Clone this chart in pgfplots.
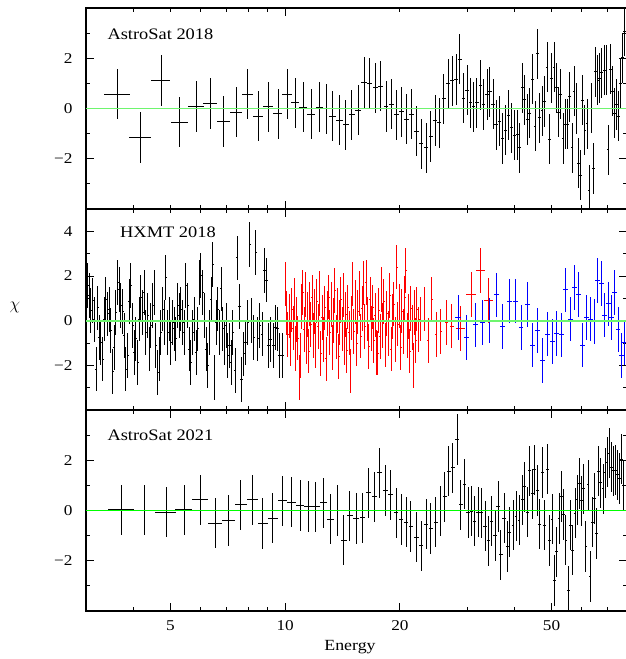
\documentclass[border=0pt]{standalone}
\usepackage{fontspec}
\setmainfont[FakeStretch=1.15]{Liberation Serif}
\usepackage{pgfplots}
\usepackage{pgfplotstable}
\pgfplotsset{compat=1.18}
\definecolor{lgreen}{RGB}{110,245,110}
\definecolor{pgreen}{RGB}{0,255,0}

% AstroSat 2018
\pgfplotstableread{
E chi dE
3.624 0.57 0.28
4.170 -1.15 0.28
4.726 1.11 0.27
5.280 -0.54 0.28
5.841 0.08 0.28
6.366 0.20 0.27
6.896 -0.52 0.26
7.439 -0.14 0.27
7.971 0.57 0.27
8.500 -0.30 0.26
9.028 0.06 0.27
9.575 -0.21 0.26
10.11 0.57 0.28
10.63 0.22 0.26
11.15 0.05 0.27
11.71 -0.22 0.27
12.27 0.05 0.26
12.80 -0.01 0.27
13.32 -0.30 0.27
13.87 -0.46 0.27
14.41 -0.65 0.27
14.97 -0.25 0.27
15.53 -0.07 0.27
16.10 1.03 0.27
16.66 1.00 0.27
17.24 0.83 0.27
17.81 0.89 0.27
18.39 0.08 0.27
18.99 0.17 0.27
19.62 -0.25 0.27
20.22 -0.13 0.30
20.84 -0.42 0.30
21.48 -0.23 0.30
22.14 -0.90 0.30
22.76 -1.41 0.30
23.42 -1.56 0.30
24.09 -1.11 0.30
24.77 -0.48 0.30
25.37 -0.57 0.30
26.10 0.38 0.32
26.79 0.98 0.32
27.40 1.10 0.32
28.07 1.15 0.32
28.71 1.97 0.32
29.34 0.41 0.32
30.00 0.73 0.32
30.60 0.22 0.32
31.23 0.07 0.32
31.86 0.22 0.32
32.50 0.93 0.32
33.18 0.16 0.32
33.85 0.56 0.32
34.47 0.67 0.32
35.10 0.17 0.35
35.75 -0.65 0.35
36.47 -0.50 0.35
37.13 -1.19 0.35
37.81 -0.86 0.35
38.51 -0.26 0.35
39.31 -0.77 0.35
40.03 -1.06 0.35
40.76 -1.04 0.35
41.16 -1.57 0.35
41.84 0.82 0.38
42.42 0.34 0.38
43.12 -0.44 0.38
43.83 -0.19 0.38
44.52 1.16 0.38
45.26 -0.70 0.38
45.89 2.18 0.38
46.56 -0.37 0.38
47.21 -0.09 0.38
47.99 0.28 0.40
48.66 1.65 0.40
49.34 -1.22 0.40
50.06 1.20 0.40
50.77 1.64 0.40
51.47 0.82 0.40
52.23 -0.15 0.42
52.86 0.57 0.42
53.60 -1.19 0.42
54.35 -0.62 0.42
55.15 -0.62 0.42
55.82 0.46 0.44
56.60 -1.56 0.44
57.29 0.69 0.44
58.08 0.00 0.44
58.79 -2.17 0.46
59.50 -2.66 0.46
60.23 0.33 0.46
61.11 -0.86 0.46
61.97 -0.61 0.48
62.72 -3.25 0.48
63.60 0.01 0.48
64.37 -2.39 0.50
65.16 1.46 0.50
66.11 1.12 0.50
66.91 1.20 0.52
67.73 1.42 0.52
68.67 1.53 0.52
69.51 1.53 0.54
70.35 -1.65 0.54
71.34 1.56 0.54
72.21 0.69 0.56
73.08 -0.19 0.56
73.97 0.16 0.56
74.87 -0.30 0.58
75.78 1.00 0.58
76.70 2.01 0.58
77.63 3.07 0.60
}\topdata

% HXMT LE
\pgfplotstableread{
E chi dE
3.030 1.57 0.02
3.061 1.12 0.02
3.092 0.45 0.02
3.123 0.90 0.02
3.155 0.05 0.02
3.187 -2.17 0.02
3.225 0.57 0.02
3.250 -0.75 0.02
3.283 -0.97 0.02
3.317 -1.72 0.02
3.350 0.07 0.02
3.384 0.97 0.02
3.418 0.30 0.02
3.453 0.49 0.02
3.488 -0.45 0.02
3.523 -2.27 0.02
3.559 -1.20 0.02
3.595 0.37 0.02
3.631 1.72 0.02
3.668 1.39 0.02
3.705 0.67 0.02
3.743 0.42 0.02
3.781 -0.67 0.02
3.819 -2.17 0.02
3.858 -1.57 0.02
3.897 0.87 0.02
3.936 1.57 0.02
3.976 -0.22 0.02
4.016 -1.42 0.02
4.057 -0.82 0.02
4.098 -1.87 0.02
4.139 0.07 0.02
4.181 1.05 0.02
4.224 0.37 0.02
4.266 1.27 0.02
4.310 -0.52 0.02
4.353 0.22 0.02
4.397 -1.27 0.02
4.442 -0.22 0.02
4.487 0.67 0.02
4.532 1.27 0.02
4.578 -1.12 0.02
4.625 -2.32 0.02
4.672 -1.72 0.02
4.719 -0.52 0.02
4.767 0.52 0.02
4.815 -0.07 0.02
4.864 1.94 0.02
4.913 -0.52 0.02
4.963 0.07 0.02
5.013 -0.97 0.03
5.064 -0.07 0.03
5.115 -0.37 0.03
5.167 -0.82 0.03
5.219 0.67 0.03
5.272 0.22 0.03
5.326 0.52 0.03
5.380 -0.07 0.03
5.434 -0.52 0.03
5.489 1.57 0.03
5.545 0.67 0.03
5.601 -1.27 0.03
5.658 -1.87 0.03
5.715 -0.52 0.03
5.773 0.07 0.03
5.832 -1.42 0.03
5.891 -0.37 0.03
5.951 1.72 0.03
6.011 2.02 0.03
6.072 1.27 0.03
6.134 0.22 0.03
6.196 -1.27 0.03
6.259 -2.02 0.03
6.322 -0.52 0.03
6.386 0.97 0.03
6.451 2.51 0.03
6.517 -2.54 0.03
6.583 -0.07 0.03
6.649 0.52 0.03
6.717 -0.52 0.03
6.785 1.42 0.03
6.854 -0.37 0.03
6.923 -0.97 0.03
6.994 -0.22 0.03
7.065 -1.57 0.05
7.136 -1.12 0.05
7.209 -1.87 0.05
7.282 -0.52 0.05
7.386 -2.24 0.05
7.476 2.81 0.05
7.583 0.64 0.05
7.675 -2.62 0.05
7.785 -1.49 0.05
7.864 -0.97 0.05
7.976 -0.07 0.06
8.073 3.41 0.06
8.171 0.00 0.06
8.270 -0.75 0.06
8.370 3.06 0.06
8.472 -0.82 0.06
8.575 -0.22 0.06
8.695 -0.60 0.06
8.817 2.24 0.07
8.924 1.82 0.07
9.032 -1.12 0.07
9.159 -0.85 0.07
9.305 -1.12 0.08
9.416 -0.30 0.08
9.547 -0.37 0.08
9.680 -1.57 0.08
9.833 -1.57 0.08
}\ledata

% HXMT ME
\pgfplotstableread{
E chi dE
10.00 1.64 0.04
10.08 0.35 0.04
10.16 -0.62 0.04
10.24 0.21 0.04
10.32 -1.05 0.04
10.40 0.48 0.04
10.48 -0.33 0.04
10.56 0.92 0.04
10.64 -1.24 0.04
10.72 0.05 0.04
10.80 -0.78 0.04
10.88 -2.54 0.04
10.96 -1.57 0.04
11.04 0.63 0.04
11.12 1.27 0.04
11.20 -0.41 0.04
11.28 1.18 0.04
11.36 -0.95 0.04
11.44 0.27 0.04
11.52 -1.36 0.04
11.60 0.74 0.04
11.68 -0.18 0.04
11.76 1.05 0.04
11.84 -0.66 0.04
11.92 0.42 0.04
12.00 -1.12 0.05
12.10 0.88 0.05
12.20 -0.27 0.05
12.30 1.22 0.05
12.40 -1.48 0.05
12.50 0.15 0.05
12.60 -0.84 0.05
12.70 0.57 0.05
12.80 -1.71 0.05
12.90 0.33 0.05
13.00 1.06 0.05
13.10 -0.52 0.05
13.20 0.71 0.05
13.30 -1.19 0.05
13.40 0.02 0.05
13.50 1.34 0.05
13.60 -0.73 0.05
13.70 0.46 0.05
13.80 -1.60 0.05
13.90 -0.09 0.05
14.00 0.95 0.05
14.10 -0.38 0.05
14.20 1.15 0.05
14.30 -0.98 0.05
14.40 0.28 0.05
14.50 -1.33 0.05
14.60 0.61 0.05
14.70 -0.55 0.05
14.80 -2.26 0.05
14.90 0.12 0.05
15.00 1.64 0.06
15.13 -0.47 0.06
15.26 0.83 0.06
15.39 -1.02 0.06
15.52 0.39 0.06
15.65 1.21 0.06
15.78 -0.69 0.06
15.91 0.54 0.06
16.04 1.68 0.06
16.17 -0.25 0.06
16.30 1.72 0.06
16.43 0.08 0.06
16.56 -1.15 0.06
16.69 0.97 0.06
16.82 -0.36 0.06
16.95 0.61 0.06
17.08 -0.88 0.06
17.21 0.25 0.06
17.34 -1.42 0.06
17.47 -1.45 0.06
17.60 0.47 0.06
17.73 -0.71 0.06
17.86 1.40 0.06
18.00 -0.22 0.07
18.16 0.86 0.07
18.32 -1.09 0.07
18.48 0.31 0.07
18.64 -0.58 0.07
18.80 1.13 0.07
18.96 -1.27 0.07
19.12 0.19 0.07
19.28 0.74 0.07
19.44 -0.83 0.07
19.60 2.40 0.07
19.76 -0.15 0.07
19.92 0.66 0.07
20.08 -1.21 0.07
20.24 0.43 0.07
20.40 -0.49 0.07
20.56 1.02 0.07
20.72 2.24 0.07
20.88 -0.67 0.07
21.04 0.18 0.07
21.20 -1.36 0.07
21.36 0.55 0.07
21.52 -0.31 0.07
21.68 -2.00 0.07
21.84 0.37 0.07
22.00 -0.90 0.07
22.16 0.52 0.07
22.32 -0.41 0.07
22.59 0.07 0.10
23.18 0.52 0.10
23.71 -0.90 0.10
24.23 0.97 0.12
24.87 -0.63 0.12
25.59 -0.49 0.15
26.53 -0.07 0.25
27.35 -0.24 0.30
28.88 -0.34 0.80
30.73 1.18 0.90
32.50 2.26 0.90
34.12 0.90 0.90
}\medata

% HXMT HE
\pgfplotstableread{
E chi dE
28.41 0.15 0.43
29.95 -0.75 0.45
31.55 -0.19 0.47
32.99 -0.07 0.50
34.47 0.00 0.52
35.90 1.15 0.54
37.22 -0.27 0.56
38.74 0.88 0.58
40.17 0.88 0.60
41.58 -0.30 0.62
43.12 0.73 0.65
44.52 -1.09 0.67
45.99 -0.45 0.69
47.29 -1.78 0.71
48.75 -0.60 0.73
50.23 -0.93 0.75
51.60 -0.57 0.77
53.06 -0.64 0.80
54.56 1.38 0.82
56.02 0.07 0.84
57.39 1.48 0.86
58.92 1.18 0.88
60.37 -1.09 0.90
61.70 0.15 0.92
63.20 0.07 0.95
64.63 -0.04 0.97
66.11 1.79 0.99
67.56 1.66 1.00
68.96 0.25 1.03
70.35 0.75 1.05
71.94 0.15 1.08
73.26 1.26 1.10
74.73 -0.39 1.12
76.11 -1.57 1.14
77.49 -0.99 1.16
}\hedata

% AstroSat 2021
\pgfplotstableread{
E chi dE
3.723 0.03 0.29
4.285 0.01 0.29
4.865 -0.07 0.30
5.425 0.03 0.28
5.985 0.43 0.28
6.542 -0.50 0.27
7.091 -0.40 0.28
7.641 0.23 0.28
8.206 0.43 0.27
8.735 -0.52 0.27
9.279 -0.31 0.27
9.837 0.39 0.27
10.39 0.33 0.27
10.94 0.20 0.27
11.50 0.16 0.27
12.04 0.14 0.27
12.59 0.31 0.27
13.13 -0.35 0.27
13.68 0.00 0.27
14.24 -1.18 0.27
14.79 -0.21 0.27
15.37 -0.32 0.27
15.94 -0.29 0.27
16.52 0.71 0.27
17.13 0.54 0.27
17.73 1.50 0.27
18.31 0.80 0.27
18.92 0.62 0.27
19.54 -0.09 0.27
20.13 -0.36 0.30
20.75 -0.47 0.30
21.38 -0.64 0.30
22.08 -1.06 0.30
22.76 -1.41 0.30
23.46 -0.55 0.30
24.13 -0.72 0.30
24.83 -0.47 0.30
25.53 -0.01 0.32
26.22 0.54 0.32
26.90 1.57 0.32
27.56 1.70 0.32
28.24 2.83 0.32
28.88 0.23 0.32
29.58 1.05 0.32
30.18 -0.08 0.32
30.79 -0.03 0.32
31.43 -0.43 0.32
32.06 -0.07 0.32
32.79 -0.09 0.32
33.45 -0.63 0.32
34.12 -1.21 0.32
34.83 -0.43 0.35
35.53 -0.99 0.35
36.18 0.16 0.35
36.84 -1.76 0.35
37.52 -0.31 0.35
38.21 -1.43 0.35
38.90 -0.86 0.35
39.62 -0.58 0.35
40.34 -0.23 0.35
41.08 -0.39 0.35
41.84 0.43 0.38
42.52 0.94 0.38
43.12 -0.07 0.38
43.83 1.58 0.38
44.52 0.66 0.38
45.17 1.62 0.38
45.89 0.80 0.38
46.56 -0.55 0.38
47.29 1.51 0.40
47.99 -0.58 0.40
48.75 1.64 0.40
49.46 -1.19 0.40
50.16 -0.34 0.40
50.86 -2.79 0.40
51.60 -1.64 0.42
52.33 -0.32 0.42
53.06 0.56 0.42
53.83 -0.16 0.42
54.56 -1.18 0.42
55.35 -3.19 0.44
56.16 -0.59 0.44
56.84 -1.58 0.44
57.63 -0.11 0.44
58.33 0.42 0.44
59.15 1.07 0.46
59.86 0.39 0.46
60.74 0.86 0.46
61.48 -1.43 0.46
62.34 1.02 0.48
63.09 -2.63 0.48
63.98 -0.46 0.48
64.75 0.48 0.50
65.70 -0.92 0.50
66.50 1.57 0.50
67.31 1.10 0.52
68.26 0.87 0.52
69.09 1.50 0.52
69.93 1.93 0.54
70.78 2.28 0.54
71.77 1.73 0.54
72.64 1.58 0.56
73.53 1.61 0.56
74.42 1.42 0.58
75.33 1.27 0.58
76.24 2.04 0.58
77.17 0.99 0.60
}\botdata

\pgfplotsset{
  scale only axis, width=541bp, height=201bp,
  xmin=3, xmax=78.9,
  axis line style={line width=1.2bp},
  tick style={line width=1bp, black},
  tick align=inside,
  major tick length=8bp, minor tick length=4.3bp,
  ytick={-2,0,2}, yticklabels={−2,0,2},
  minor ytick={-3,-1,1,3},
  yticklabel style={font=\fontsize{15bp}{17bp}\selectfont, inner sep=0pt, xshift=-13.3bp},
  xticklabel style={font=\fontsize{15bp}{17bp}\selectfont, inner sep=0pt, yshift=-9bp},
}

\begin{document}
\begin{tikzpicture}[x=1bp,y=1bp]
\path[use as bounding box] (0,0) rectangle (626,-659);

% Top panel
\begin{axis}[xmode=log, at={(86bp,-8bp)}, anchor=north west, ymin=-4, ymax=4,
  xtick={10}, xticklabels={}, minor xtick={4,5,6,7,8,9,20,30,40,50,60,70}]
\addplot[draw=none, mark=none,
  error bars/x dir=both, error bars/x explicit, error bars/y dir=both, error bars/y fixed=1,
  error bars/error mark=none, error bars/error bar style={draw=black, line width=1.0bp}]
  table[x=E, y=chi, x error=dE] {\topdata};
\addplot[lgreen, line width=1.9bp, no marks] coordinates {(3,0) (78.9,0)};
\end{axis}

% Middle panel
\begin{axis}[xmode=log, at={(86bp,-209bp)}, anchor=north west, ymin=-4, ymax=5,
  xtick={10}, xticklabels={}, minor xtick={4,5,6,7,8,9,20,30,40,50,60,70},
  ytick={-2,0,2,4}, yticklabels={−2,0,2,4}]
\addplot[draw=none, mark=none,
  error bars/x dir=both, error bars/x explicit, error bars/y dir=both, error bars/y fixed=1,
  error bars/error mark=none, error bars/error bar style={draw=black, line width=1.0bp}]
  table[x=E, y=chi, x error=dE] {\ledata};
\addplot[draw=none, mark=none,
  error bars/x dir=both, error bars/x explicit, error bars/y dir=both, error bars/y fixed=1,
  error bars/error mark=none, error bars/error bar style={draw=red, line width=0.95bp}]
  table[x=E, y=chi, x error=dE] {\medata};
\addplot[draw=none, mark=none,
  error bars/x dir=both, error bars/x explicit, error bars/y dir=both, error bars/y fixed=1,
  error bars/error mark=none, error bars/error bar style={draw=blue, line width=1.0bp}]
  table[x=E, y=chi, x error=dE] {\hedata};
\addplot[lgreen, line width=1.9bp, no marks] coordinates {(3,0) (78.9,0)};
\end{axis}

% Bottom panel
\begin{axis}[xmode=log, at={(86bp,-410bp)}, anchor=north west, ymin=-4, ymax=4,
  xtick={5,10,20,50}, xticklabels={5,10,20,50},
  minor xtick={4,6,7,8,9,30,40,60,70}]
\addplot[draw=none, mark=none,
  error bars/x dir=both, error bars/x explicit, error bars/y dir=both, error bars/y fixed=1,
  error bars/error mark=none, error bars/error bar style={draw=black, line width=1.0bp}]
  table[x=E, y=chi, x error=dE] {\botdata};
\addplot[pgreen, line width=1.1bp, no marks] coordinates {(3,0) (78.9,0)};
\end{axis}

\node[anchor=base west, inner sep=0pt, font=\fontsize{16bp}{18bp}\selectfont] at (107.3,-39.5) {AstroSat 2018};
\node[anchor=base west, inner sep=0pt, font=\fontsize{16bp}{18bp}\selectfont] at (120,-237.3) {HXMT 2018};
\node[anchor=base west, inner sep=0pt, font=\fontsize{16bp}{18bp}\selectfont] at (107.3,-440) {AstroSat 2021};
\node[inner sep=0pt, font=\fontsize{18bp}{20bp}\selectfont] at (15,-307) {$\chi$};
\node[anchor=base, inner sep=0pt, font=\fontsize{15.5bp}{18bp}\selectfont] at (350,-650.7) {Energy};
\end{tikzpicture}
\end{document}
